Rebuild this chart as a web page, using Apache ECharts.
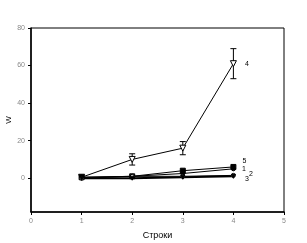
<!DOCTYPE html>
<html><head><meta charset="utf-8">
<script src="https://cdn.jsdelivr.net/npm/echarts@6/dist/echarts.min.js"></script>
<style>html,body{margin:0;padding:0;background:#fff}#c{width:307px;height:243px}</style>
</head><body><div id="c"></div>
<script>
var xValues = [1, 2, 3, 4];
var yTicks = [0, 20, 40, 60, 80];
var s4 = [0.5, 10, 16, 61];
var err4 = [0, 3, 3.5, 8];
var s5 = [0.5, 1, 4, 6];
var s1 = [0.5, 1, 2.5, 5];
var s2 = [0, 1, 1, 1.5];
var s3 = [0, 0, 0.5, 1];

function pts(arr) { return xValues.map(function (x, i) { return [x, arr[i]]; }); }

var chart = echarts.init(document.getElementById('c'), null, {renderer: 'canvas'});

function mkSeries(name, arr, symbol, filled, lineWidth, size, lblOffset) {
  return {
    type: 'line', name: name, data: pts(arr), symbol: symbol, symbolSize: size,
    symbolRotate: symbol === 'triangle' ? 180 : 0,
    lineStyle: {color: '#000', width: lineWidth},
    itemStyle: {color: filled ? '#000' : '#fff', borderColor: '#000', borderWidth: 1},
    label: {show: true, formatter: function (p) { return p.dataIndex === 3 ? name : ''; },
            position: 'right', offset: lblOffset, fontFamily: 'Liberation Sans', fontSize: 7, color: '#000'},
    z: 3, animation: false
  };
}

var errData = xValues.map(function (x, i) { return [x, s4[i] - err4[i], s4[i] + err4[i]]; }).filter(function (d, i) { return err4[i] > 0; });

chart.setOption({
  animation: false,
  grid: {left: 31, right: 23, top: 28, bottom: 31, outerBoundsMode: 'none', containLabel: false, show: true, borderColor: '#000', borderWidth: 1},
  xAxis: {
    type: 'value', min: 0, max: 5, interval: 1,
    name: 'Строки', nameLocation: 'middle', nameGap: 19, nameMoveOverlap: false,
    nameTextStyle: {fontFamily: 'Liberation Sans', fontSize: 9, color: '#000'},
    axisLine: {show: true, onZero: false, lineStyle: {color: '#000', width: 1.5}},
    axisTick: {show: true, length: 3, lineStyle: {color: '#000'}},
    axisLabel: {fontFamily: 'Liberation Sans', fontSize: 7, color: '#888', margin: 6},
    splitLine: {show: false}
  },
  yAxis: {
    type: 'value', min: -18, max: 80,
    name: 'W', nameLocation: 'middle', nameGap: 18, nameRotate: 90, nameMoveOverlap: false,
    nameTextStyle: {fontFamily: 'Liberation Sans', fontSize: 8, color: '#000'},
    axisLine: {show: true, onZero: false, lineStyle: {color: '#000', width: 1.5}},
    axisTick: {show: true, length: 3, customValues: yTicks, lineStyle: {color: '#000'}},
    axisLabel: {customValues: yTicks, fontFamily: 'Liberation Sans', fontSize: 7, color: '#888', margin: 6},
    splitLine: {show: false}
  },
  series: [
    {
      type: 'custom', name: 'err4', data: errData, z: 2,
      renderItem: function (params, api) {
        var x = api.value(0), lo = api.value(1), hi = api.value(2);
        var pL = api.coord([x, lo]), pH = api.coord([x, hi]);
        var w = 3;
        var st = {stroke: '#000', lineWidth: 1};
        return {type: 'group', children: [
          {type: 'line', shape: {x1: pL[0], y1: pL[1], x2: pH[0], y2: pH[1]}, style: st},
          {type: 'line', shape: {x1: pL[0] - w, y1: pL[1], x2: pL[0] + w, y2: pL[1]}, style: st},
          {type: 'line', shape: {x1: pH[0] - w, y1: pH[1], x2: pH[0] + w, y2: pH[1]}, style: st}
        ]};
      },
      encode: {x: 0, y: [1, 2]}
    },
    mkSeries('4', s4, 'triangle', false, 1, 6, [3, 0]),
    mkSeries('5', s5, 'rect', true, 1, 5, [1, -6]),
    mkSeries('1', s1, 'circle', true, 1, 4, [1, 0]),
    mkSeries('2', s2, 'circle', false, 1, 4, [8, -1]),
    mkSeries('3', s3, 'triangle', true, 2, 4, [4, 3])
  ]
});
</script></body></html>
